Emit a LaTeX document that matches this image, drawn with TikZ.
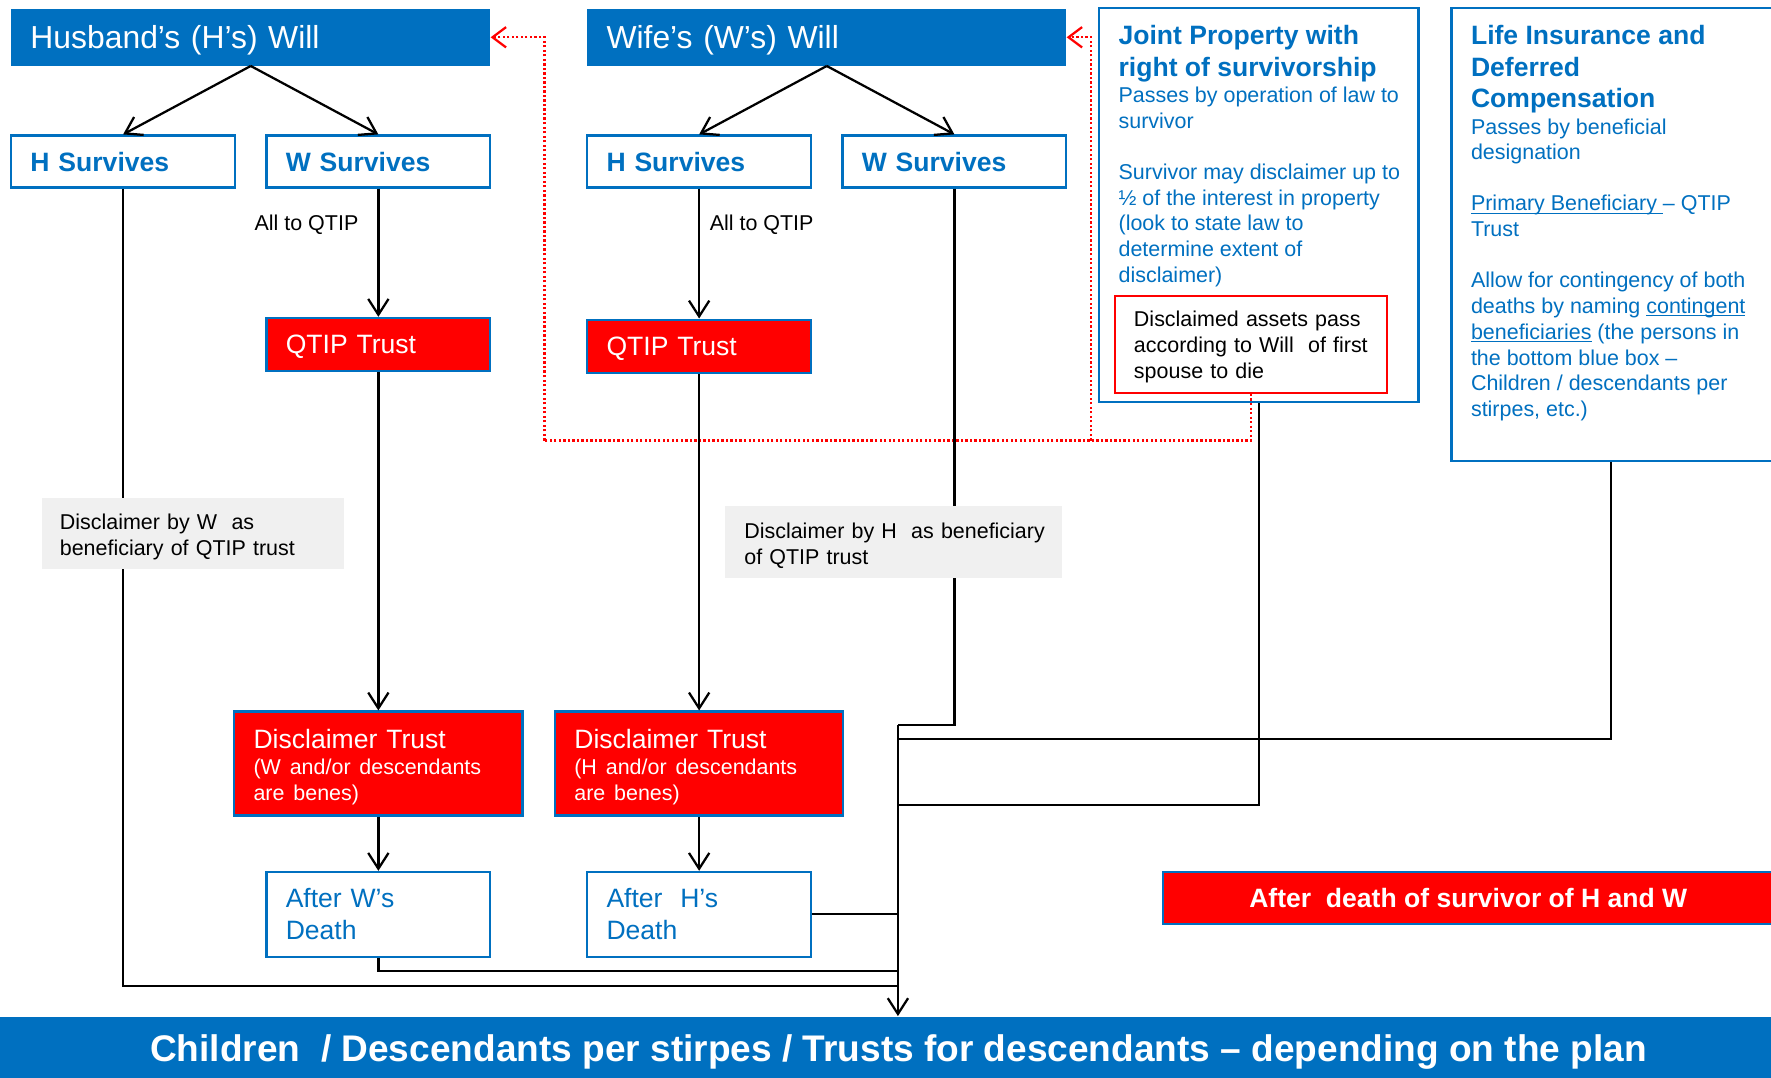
\documentclass[tikz,border=0pt]{standalone}
\usepackage{fontspec}
\setmainfont{Liberation Sans}
\usetikzlibrary{arrows.meta,calc}
\definecolor{pblue}{HTML}{0070C0}
\definecolor{pred}{HTML}{FF0000}
\definecolor{pgray}{HTML}{F0F0F0}
\newcommand{\szWill}{\fontsize{14.1pt}{17pt}\selectfont}
\newcommand{\szBox}{\fontsize{11.75pt}{14pt}\selectfont}
\newcommand{\szSmall}{\fontsize{9.5pt}{11.5pt}\selectfont}
\newcommand{\szBand}{\fontsize{16.4pt}{19pt}\selectfont}
\newcommand{\myul}[1]{\setbox0\hbox{#1}\rlap{\rule[-1.3pt]{\wd0}{0.55pt}}\box0\relax}
\begin{document}
\begin{tikzpicture}[x=0.5pt,y=-0.5pt,
  willbox/.style={fill=pblue, draw=none, text=white, font=\szWill, minimum height=25pt, inner xsep=8.5pt, inner ysep=0pt, align=left, text width=195pt, text height=10.1pt, text depth=0pt},
  survbox/.style={draw=pblue, line width=1pt, fill=white, text=pblue, font=\bfseries\szBox, text width=82pt, inner xsep=8.5pt, inner ysep=0pt, minimum height=23pt, align=left, text height=8.4pt, text depth=0pt},
  qtipbox/.style={draw=pblue, line width=1pt, fill=pred, text=white, font=\szBox, text width=82pt, inner xsep=8.5pt, inner ysep=0pt, minimum height=23.5pt, align=left, text height=8.4pt, text depth=0pt},
  dtbox/.style={draw=pblue, line width=1pt, fill=pred, text=white, font=\fontsize{11.75pt}{11.5pt}\selectfont, text width=110.5pt, inner xsep=8.5pt, inner ysep=0pt, minimum height=46pt, align=left},
  afterbox/.style={draw=pblue, line width=1pt, fill=white, text=pblue, font=\szBox, text width=82pt, inner xsep=8.5pt, inner ysep=0pt, minimum height=37.5pt, align=left},
  graybox/.style={fill=pgray, draw=none, text=black, font=\szSmall, inner xsep=8pt, inner ysep=0pt, align=left},
  panel/.style={draw=pblue, line width=1pt, fill=white, inner sep=0pt},
  ptitle/.style={anchor=base west, align=left, inner sep=0pt, text=pblue, font=\bfseries\szBox},
  ptext/.style={anchor=base west, align=left, inner sep=0pt, text=pblue, font=\fontsize{9.5pt}{11.4pt}\selectfont},
  lbl/.style={anchor=base west, inner sep=0pt, text=black, font=\szSmall},
  conn/.style={line width=1pt, black, -{Straight Barb[length=7pt,width=9pt,line width=1pt]}},
  plain/.style={line width=1pt, black},
  reddot/.style={line width=1pt, pred, dash pattern=on 1pt off 1pt}
]
\useasboundingbox (0,0) rectangle (1568,954);
\fill[white] (0,0) rectangle (1568,954);

% wills
\node[willbox] (hwill) at (222,33) {Husband’s (H’s) Will};
\node[willbox] (wwill) at (732,33) {Wife’s (W’s) Will};

% survives
\node[survbox] (hs1) at (109,143) {H Survives};
\node[survbox] (ws1) at (335,143) {W Survives};
\node[survbox] (hs2) at (619,143) {H Survives};
\node[survbox] (ws2) at (845,143) {W Survives};

% QTIP
\node[qtipbox] (q1) at (335,305) {QTIP Trust};
\node[qtipbox] (q2) at (619,306.5) {QTIP Trust};

% disclaimer trusts
\node[dtbox] (dt1) at (335,676) {\rule{0pt}{11.6pt}Disclaimer Trust\\{\fontsize{9.5pt}{11.5pt}\selectfont (W and/or descendants\\are benes)}};
\node[dtbox] (dt2) at (619,676) {\rule{0pt}{11.6pt}Disclaimer Trust\\{\fontsize{9.5pt}{11.5pt}\selectfont (H and/or descendants\\are benes)}};

% after deaths
\node[afterbox] (aw) at (335,809.5) {After W’s\\Death};
\node[afterbox] (ah) at (619,809.5) {After\ \ H’s\\Death};

% right panels
\node[panel, minimum width=141.5pt, minimum height=174.5pt] (jp) at (1114.5,181.5) {};
\node[panel, minimum width=147.5pt, minimum height=200.5pt] (li) at (1432.5,207.5) {};

% (anchor base = baseline of the last line)
\node[ptitle] (jpt) at (990,67.4) {Joint Property with\\right of survivorship};
\node[ptext] (jpa) at (990,113.6) {Passes by operation of law to\\survivor};
\node[ptext] (jpb) at (990,250) {Survivor may disclaimer up to\\½ of the interest in property\\(look to state law to\\determine extent of\\disclaimer)};
\node[draw=pred, line width=0.8pt, fill=white, text=black, font=\szSmall, text width=103.5pt, inner xsep=8.5pt, inner ysep=0pt, minimum height=43pt, align=left] (disc) at (1107.5,305) {\rule{0pt}{8.9pt}Disclaimed assets pass\\according to Will\ \ of first\\spouse to die};

\node[ptitle] (lit) at (1302,95.4) {Life Insurance and\\Deferred\\Compensation};
\node[ptext] (lia) at (1302,141.6) {Passes by beneficial\\designation};
\node[ptext] (lib) at (1302,209.6) {\myul{Primary Beneficiary }– QTIP\\Trust};
\node[ptext] (lic) at (1302,368.8) {Allow for contingency of both\\deaths by naming \myul{contingent}\\\myul{beneficiaries} (the persons in\\the bottom blue box –\\Children / descendants per\\stirpes, etc.)};

% after death of survivor
\node[fill=pred, draw=pblue, line width=1pt, minimum width=270pt, minimum height=23pt, inner sep=0pt, text=white, font=\bfseries\szBox, text height=8.4pt, text depth=0pt] (adsurv) at (1300,795) {After\ \ death of survivor of H and W};

% bottom band
\node[fill=pblue, draw=none, minimum width=784pt, minimum height=27pt, inner sep=0pt] (band) at (784,927) {};
\node[anchor=base, inner sep=0pt, text=white, font=\bfseries\szBand] (bandtxt) at (795.5,939.8) {Children\ \ / Descendants per stirpes / Trusts for descendants – depending on the plan};

% labels
\node[lbl] (lq1) at (225,203.8) {All to QTIP};
\node[lbl] (lq2) at (628,203.8) {All to QTIP};

% coordinates
\coordinate (trunk) at (795,642);
\coordinate (cj1) at (795,654);
\coordinate (cj2) at (795,713);
\coordinate (cj4) at (795,860);
\coordinate (cj5) at (795,873);
\coordinate (rd1) at (482,390);
\coordinate (rd2) at (966,390);

% red dotted
\draw[reddot] (disc.south) |- (rd1);
\draw[reddot, -{Straight Barb[length=6pt,width=9pt,line width=1pt]}] (rd1) |- (hwill.east);
\draw[reddot, -{Straight Barb[length=6pt,width=9pt,line width=1pt]}] (rd2) |- (wwill.east);

% black connectors
\draw[conn] (hwill.south) -- (hs1.north);
\draw[conn] (hwill.south) -- (ws1.north);
\draw[conn] (wwill.south) -- (hs2.north);
\draw[conn] (wwill.south) -- (ws2.north);
\draw[conn] (ws1.south) -- (q1.north);
\draw[conn] (hs2.south) -- (q2.north);
\draw[conn] (q1.south) -- (dt1.north);
\draw[conn] (q2.south) -- (dt2.north);
\draw[conn] (dt1.south) -- (aw.north);
\draw[conn] (dt2.south) -- (ah.north);

\draw[plain] (hs1.south) |- (cj5);
\draw[plain] (ws2.south) |- (trunk);
\draw[plain] ($(li.south)+(-6.5,0)$) |- (cj1);
\draw[plain] (jp.south) |- (cj2);
\draw[plain] (ah.east) -- (ah.east -| trunk);
\draw[plain] (aw.south) |- (cj4);
\draw[conn] (trunk) -- (trunk |- band.north);

% gray labels on top
\node[graybox, text width=118pt, minimum height=31.5pt] (gw) at (171,472.5) {\rule{0pt}{9.9pt}Disclaimer by W\ \ as\\beneficiary of QTIP trust};
\node[graybox, text width=132pt, inner xsep=8.5pt, minimum height=32pt] (gh) at (791,480) {\rule{0pt}{9.9pt}\mbox{Disclaimer by H\ \ as beneficiary}\\of QTIP trust};
\end{tikzpicture}
\end{document}
